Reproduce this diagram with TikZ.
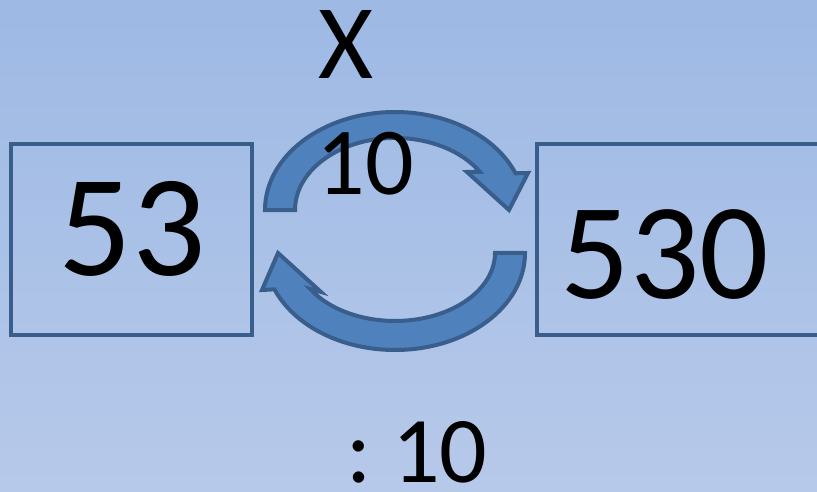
\documentclass[tikz,border=0pt]{standalone}
\usepackage{fontspec}
\setmainfont{Carlito}
\usetikzlibrary{positioning}
\definecolor{bgtop}{RGB}{157,185,228}
\definecolor{bgbot}{RGB}{183,201,234}
\definecolor{edgeblue}{RGB}{58,94,139}
\definecolor{arrowblue}{RGB}{79,129,189}

\begin{document}
\begin{tikzpicture}[x=1pt, y=1pt,
    numbox/.style={draw=edgeblue, line width=4.5pt, minimum height=191pt, inner sep=0pt},
    bignum/.style={inner sep=0pt, text=black},
    circarrow/.style={fill=arrowblue, draw=edgeblue, line width=4pt, line join=miter},
]

    % background
    \useasboundingbox (0,0) rectangle (817,491);
    \fill[top color=bgtop, bottom color=bgbot] (0,0) rectangle (817,491);
    \clip (0,0) rectangle (817,491);

    % boxes
    \node[numbox, minimum width=241pt] (box_small) at (131.5,251.5) {};
    \node[numbox, minimum width=293pt] (box_big) at (683.5,251.5) {};

    % multiply arrow (top)
    \draw[circarrow] (295,281) -- (265,281)
        arc[start angle=180, end angle=22, x radius=130, y radius=98]
        -- (528,318) -- (509,281) -- (467,319) -- (479.8,319.2)
        arc[start angle=32, end angle=180, x radius=100, y radius=72] -- cycle;

    % divide arrow (bottom)
    \draw[circarrow] (525,238)
        arc[start angle=0, end angle=-158, x radius=130, y radius=97]
        -- (262,201) -- (278,238) -- (321,199) -- (310.2,202)
        arc[start angle=-148, end angle=0, x radius=100, y radius=68] -- cycle;

    % labels
    \node[bignum, font=\fontsize{145}{145}\selectfont] (num_small) at (132,262) {53};
    \node[bignum, font=\fontsize{137}{137}\selectfont] (num_big) at (665,236) {530};
    \node[bignum, font=\fontsize{106}{106}\selectfont] (op_times) at (346.5,446.5) {X};
    \node[bignum, font=\fontsize{96}{96}\selectfont] (factor_top) at (365,327) {10};
    \node[bignum, font=\fontsize{94}{94}\selectfont] (op_div) at (417,39) {:\hspace{0.22em}10};

\end{tikzpicture}
\end{document}
